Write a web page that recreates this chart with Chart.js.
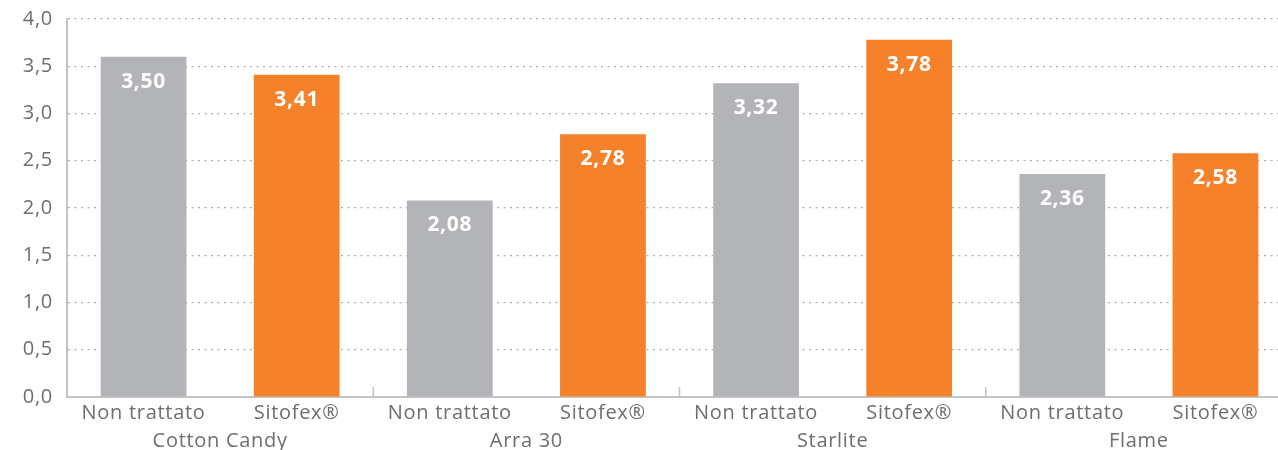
<!DOCTYPE html>
<html><head><meta charset="utf-8">
<script src="https://cdn.jsdelivr.net/npm/chart.js@4/dist/chart.umd.min.js"></script>
<style>html,body{margin:0;padding:0;background:#fff;overflow:hidden}#wrap{width:1292px;height:450px}</style>
</head><body><div id="wrap"><canvas id="c" width="1292" height="450"></canvas></div>
<script>
const treatments = ["Non trattato","Sitofex®","Non trattato","Sitofex®","Non trattato","Sitofex®","Non trattato","Sitofex®"];
const varieties = ["Cotton Candy","Arra 30","Starlite","Flame"];
const barHeights = [3.60, 3.41, 2.08, 2.78, 3.32, 3.78, 2.36, 2.58];
const printedValues = ["3,50","3,41","2,08","2,78","3,32","3,78","2,36","2,58"];
const barColors = ["#b3b4b7","#f5822a","#b3b4b7","#f5822a","#b3b4b7","#f5822a","#b3b4b7","#f5822a"];
const yTicks = [0,0.5,1,1.5,2,2.5,3,3.5,4];

const FONT = "'Open Sans', sans-serif";
const TXT = "#6d6e71";

const spacing = {
  id:'spacing',
  beforeUpdate(chart){ chart.ctx.letterSpacing = '0.7px'; },
  beforeDraw(chart){ chart.ctx.letterSpacing = '0.7px'; }
};
const valueLabels = {
  id:'valueLabels',
  afterDatasetsDraw(chart){
    const ctx = chart.ctx;
    const meta = chart.getDatasetMeta(0);
    ctx.save();
    ctx.fillStyle = '#fff';
    ctx.font = "bold 21px " + FONT;
    ctx.textAlign = 'center';
    ctx.textBaseline = 'middle';
    meta.data.forEach((bar,i)=>{
      ctx.fillText(printedValues[i], bar.x, bar.y + 25);
    });
    ctx.restore();
  }
};
const groupTicks = {
  id:'groupTicks',
  afterDraw(chart){
    const ctx = chart.ctx, x = chart.scales.x, y = chart.scales.y;
    const w = x.getPixelForValue(1) - x.getPixelForValue(0);
    ctx.save();
    ctx.strokeStyle = '#c4c4c6';
    ctx.lineWidth = 1.5;
    for (let g=0; g<=varieties.length; g++){
      const px = x.getPixelForValue(g*2) - w/2;
      ctx.beginPath();
      ctx.moveTo(px, y.bottom);
      ctx.lineTo(px, y.bottom - 10);
      ctx.stroke();
    }
    ctx.restore();
  }
};

new Chart(document.getElementById('c'), {
  type:'bar',
  data:{
    labels: treatments,
    datasets:[{data: barHeights, backgroundColor: barColors, barPercentage:0.56, categoryPercentage:1}]
  },
  options:{
    responsive:false,
    animation:false,
    layout:{padding:{top:19,left:0,right:0,bottom:0}},
    plugins:{legend:{display:false},tooltip:{enabled:false}},
    scales:{
      x:{
        grid:{display:false, drawTicks:false},
        border:{display:true,color:'#c4c4c6',width:2},
        ticks:{color:TXT,font:{family:FONT,size:20},padding:4,maxRotation:0,autoSkip:false},
        afterFit(s){ s.height = 30; s.paddingLeft = 0; s.paddingRight = 0; }
      },
      x2:{
        type:'category',
        labels: varieties,
        position:'bottom',
        offset:true,
        grid:{display:false, drawTicks:false},
        border:{display:false},
        ticks:{color:TXT,font:{family:FONT,size:20},padding:2,maxRotation:0,autoSkip:false},
        afterFit(s){ s.height = 23; s.paddingLeft = 0; s.paddingRight = 0; }
      },
      y:{
        min:0,max:4,
        afterBuildTicks(s){ s.ticks = yTicks.map(v=>({value:v})); },
        grid:{color:'#aeaeb0',lineWidth:1.2,drawTicks:false},
        border:{display:true,color:'#c4c4c6',width:2,dash:[2,4.5]},
        ticks:{color:TXT,font:{family:FONT,size:20},padding:14,
          callback:(v)=>v.toFixed(1).replace('.',',')},
        afterFit(s){ s.width = 67; s.paddingTop = 0; s.paddingBottom = 0; }
      }
    }
  },
  plugins:[spacing, valueLabels, groupTicks]
});
</script></body></html>
